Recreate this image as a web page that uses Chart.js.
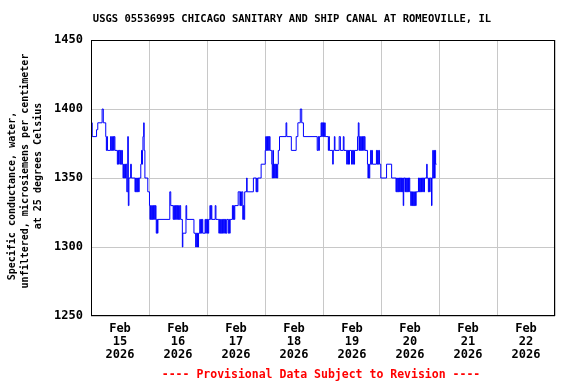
<!DOCTYPE html>
<html>
<head>
<meta charset="utf-8">
<script src="https://cdn.jsdelivr.net/npm/chart.js@4.4.1/dist/chart.umd.min.js"></script>
<style>
  html, body { margin: 0; padding: 0; background: #fff; }
  #chart { display: block; }
</style>
</head>
<body>
<canvas id="chart" width="576" height="384"></canvas>
<script>
// Hours since Feb 15 2026 00:00 and specific conductance (uS/cm), one array per day
const day15 = [
  [0,1390],[0.5,1380],[2.3,1385],[2.8,1390],[4.6,1400],[5.1,1390],
  [6.1,1380],[6.35,1370],[6.6,1380],[6.8,1370],
  [8.1,1380],[8.35,1370],[8.6,1380],[8.85,1370],[9.1,1380],[9.35,1370],[9.6,1380],[9.9,1370],
  [10.9,1360],[11.15,1370],[11.4,1360],[11.65,1370],
  [12.0,1360],[12.25,1370],[12.5,1360],[12.75,1370],
  [13.0,1360],[13.25,1350],[13.5,1360],[13.75,1350],[14.0,1360],[14.25,1350],[14.5,1360],
  [14.8,1340],[15.2,1380],[15.45,1330],[15.7,1350],[16.4,1360],[16.7,1350],
  [18.2,1340],[18.45,1350],[18.7,1340],[18.95,1350],[19.2,1340],[19.45,1350],[19.7,1340],[19.95,1350],
  [20.6,1360],[20.9,1370],[21.1,1360],[21.3,1370],[21.5,1380],[21.8,1390],[22.0,1370],[22.3,1350],[23.5,1340]
];
const day16 = [
  [24.2,1330],[24.4,1320],[24.65,1330],[24.9,1320],[25.15,1330],[25.4,1320],[25.65,1330],[25.9,1320],[26.15,1330],[26.4,1320],[26.65,1330],
  [26.9,1320],[27.0,1310],[27.25,1320],[27.5,1310],[27.7,1320],
  [32.6,1340],[33.0,1330],
  [34.0,1320],[34.25,1330],[34.5,1320],[34.75,1330],[35.0,1320],[35.25,1330],[35.5,1320],[35.75,1330],[36.0,1320],[36.25,1330],[36.5,1320],[36.75,1330],
  [37.1,1320],[37.8,1300],[38.0,1310],[39.3,1330],[39.6,1320],
  [42.6,1310],[43.3,1300],[43.55,1310],[43.8,1300],[44.05,1310],[44.3,1300],[44.5,1310],
  [45.0,1320],[45.25,1310],[45.5,1320],[45.75,1310],[46.0,1320],[46.25,1310],
  [47.2,1320],[47.45,1310],[47.7,1320],[47.95,1310]
];
const day17 = [
  [48.2,1320],[48.45,1310],[48.7,1320],[49.2,1330],[49.5,1320],[49.75,1330],[50.0,1320],
  [51.4,1330],[51.7,1320],
  [52.9,1310],[53.15,1320],[53.4,1310],[53.65,1320],[53.9,1310],[54.15,1320],[54.4,1310],[54.65,1320],
  [54.9,1310],[55.15,1320],[55.4,1310],[55.65,1320],[55.9,1310],[56.2,1320],
  [56.8,1310],[57.05,1320],[57.3,1310],[57.6,1320],
  [58.5,1330],[58.75,1320],[59.0,1330],[59.25,1320],[59.5,1330],
  [60.9,1340],[61.6,1330],[61.85,1340],[62.1,1330],[62.35,1340],
  [62.8,1320],[63.05,1330],[63.3,1320],[63.6,1340],
  [64.4,1350],[64.6,1340],[67.2,1350],
  [68.3,1340],[68.55,1350],[68.8,1340],[69.05,1350],
  [70.4,1360]
];
const day18 = [
  [72.1,1370],[72.3,1380],[72.55,1370],[72.8,1380],[73.05,1370],[73.3,1380],[73.55,1370],[73.8,1380],[74.1,1370],
  [74.8,1360],[75.0,1350],[75.25,1370],[75.5,1350],[75.75,1360],[76.0,1350],[76.25,1360],[76.5,1350],[76.75,1360],[77.0,1350],[77.25,1360],
  [77.5,1370],[78.0,1380],[80.7,1390],[81.0,1380],[82.9,1370],[84.9,1380],[85.6,1390],[86.6,1400],[87.2,1390],[87.9,1380],
  [93.6,1370],[94.0,1380],[94.25,1370],[94.5,1380],
  [95.2,1390],[95.45,1380],[95.7,1390],[95.95,1380]
];
const day19 = [
  [96.2,1390],[96.45,1380],[96.7,1390],[96.9,1380],
  [98.2,1370],[98.4,1380],[98.65,1370],[100.0,1360],[100.25,1370],[100.7,1380],[100.95,1370],
  [102.7,1380],[103.2,1370],[104.4,1380],[104.7,1370],
  [105.8,1360],[106.05,1370],[106.3,1360],[106.55,1370],[106.8,1360],[106.95,1370],
  [107.8,1360],[108.05,1370],[108.3,1360],[108.55,1370],[108.8,1360],[109.05,1370],
  [110.3,1380],[110.6,1390],[110.9,1370],[111.1,1380],[111.35,1370],[111.6,1380],[111.85,1370],
  [112.1,1380],[112.35,1370],[112.6,1380],[112.85,1370],[113.1,1380],[113.4,1370],
  [114.4,1360],[114.6,1350],[114.85,1360],[115.1,1350],[115.35,1360],
  [115.7,1370],[115.95,1360],[116.2,1370],[116.45,1360],
  [118.1,1370],[118.35,1360],[118.6,1370],[118.85,1360],[119.1,1370],[119.4,1360],
  [119.9,1350]
];
const day20 = [
  [122.3,1360],[124.4,1350],
  [126.2,1340],[126.45,1350],[126.7,1340],[126.95,1350],[127.2,1340],[127.45,1350],[127.7,1340],[127.95,1350],
  [128.2,1340],[128.45,1350],[128.7,1340],[128.95,1350],[129.2,1330],[129.4,1350],
  [129.9,1340],[130.15,1350],[130.4,1340],[130.65,1350],[130.9,1340],[131.15,1350],[131.4,1340],[131.65,1350],[131.9,1340],
  [132.3,1330],[132.55,1340],[132.8,1330],[133.05,1340],[133.3,1330],[133.55,1340],[133.8,1330],[134.05,1340],[134.3,1330],[134.55,1340],
  [135.5,1350],[135.75,1340],[136.0,1350],[136.25,1340],[136.5,1350],[136.75,1340],[137.0,1350],[137.25,1340],[137.5,1350],[137.75,1340],[138.0,1350],
  [138.9,1360],[139.1,1350],[139.6,1340],[139.85,1350],[140.1,1340],[140.35,1350],[140.9,1330],[141.1,1350],
  [141.4,1370],[141.65,1350],[141.9,1370],[142.15,1350],[142.4,1370],[142.6,1360],[143.0,1360]
];

const dayLabels = ['15', '16', '17', '18', '19', '20', '21', '22'];
const yTicks = [1250, 1300, 1350, 1400, 1450];
const titleText = 'USGS 05536995 CHICAGO SANITARY AND SHIP CANAL AT ROMEOVILLE, IL';
const yTitle = ['Specific conductance, water,', 'unfiltered, microsiemens per centimeter', 'at 25 degrees Celsius'];
const footer = '---- Provisional Data Subject to Revision ----';

const MONO = '"DejaVu Sans Mono", "Liberation Mono", monospace';
const GRID = '#c8c8c8';

const series = [...day15, ...day16, ...day17, ...day18, ...day19, ...day20].map(p => ({ x: p[0], y: p[1] }));

// frame + page texts
const decor = {
  id: 'decor',
  afterDraw(chart) {
    const { ctx, chartArea: a } = chart;
    ctx.save();
    ctx.strokeStyle = '#000';
    ctx.lineWidth = 1;
    ctx.strokeRect(Math.round(a.left) + 0.5, Math.round(a.top) + 0.5,
      Math.round(a.right - a.left) - 1, Math.round(a.bottom - a.top) - 1);

    ctx.fillStyle = '#000';
    ctx.textAlign = 'center';
    ctx.textBaseline = 'middle';
    ctx.font = 'bold 10.5px ' + MONO;
    ctx.fillText(titleText, 292, 19);

    ctx.font = 'bold 10px ' + MONO;
    const xs = [12, 25, 38];
    const ys = [196, 171, 166];
    yTitle.forEach((line, i) => {
      ctx.save();
      ctx.translate(xs[i], ys[i]);
      ctx.rotate(-Math.PI / 2);
      ctx.fillText(line, 0, 0);
      ctx.restore();
    });

    ctx.fillStyle = '#ff0000';
    ctx.font = 'bold 11.5px ' + MONO;
    ctx.fillText(footer, 321, 375);
    ctx.restore();
  }
};

new Chart(document.getElementById('chart').getContext('2d'), {
  type: 'line',
  data: {
    datasets: [{
      data: series,
      borderColor: '#0000ff',
      borderWidth: 1,
      stepped: 'before',
      pointRadius: 0,
      fill: false
    }]
  },
  options: {
    responsive: false,
    devicePixelRatio: 1,
    animation: false,
    layout: { padding: { left: 0, right: 21, top: 40, bottom: 0 } },
    plugins: { legend: { display: false }, tooltip: { enabled: false } },
    scales: {
      x: {
        type: 'linear',
        min: 0,
        max: 192,
        afterFit: (s) => { s.height = 68; },
        grid: {
          drawTicks: false,
          color: (c) => (c.tick && c.tick.value % 24 === 0) ? GRID : 'rgba(0,0,0,0)'
        },
        border: { display: false },
        ticks: {
          stepSize: 12,
          autoSkip: false,
          maxRotation: 0,
          padding: 7,
          color: '#000',
          font: { family: MONO, weight: 'bold', size: 12, lineHeight: 1.05 },
          callback: (v) => v % 24 === 12 ? ['Feb', dayLabels[(v - 12) / 24], '2026'] : ''
        }
      },
      y: {
        min: yTicks[0],
        max: yTicks[yTicks.length - 1],
        afterFit: (s) => { s.width = 91; },
        afterBuildTicks: (s) => { s.ticks = yTicks.map(v => ({ value: v })); },
        grid: { drawTicks: false, color: GRID },
        border: { display: false },
        ticks: {
          padding: 8,
          color: '#000',
          font: { family: MONO, weight: 'bold', size: 12 },
          callback: (v) => String(v)
        }
      }
    }
  },
  plugins: [decor]
});
</script>
</body>
</html>
